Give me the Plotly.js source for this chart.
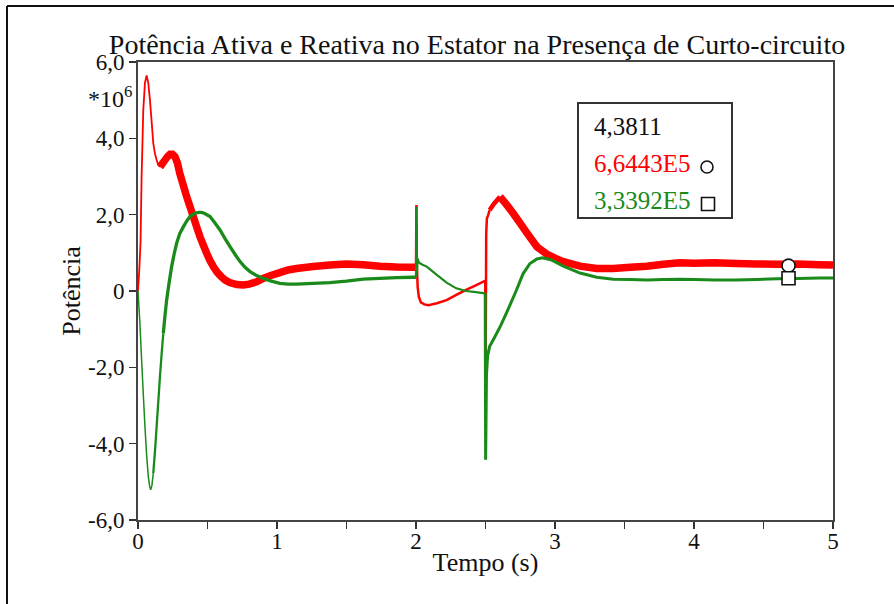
<!DOCTYPE html>
<html>
<head>
<meta charset="utf-8">
<script src="https://cdn.plot.ly/plotly-3.0.1.min.js"></script>
<style>html,body{margin:0;padding:0;background:#fff;}#chart{width:894px;height:604px;}</style>
</head>
<body>
<div id="chart"></div>
<script>
// ---- Data (power in units of 1e6) ----
// Active power P (red), segments by trace thickness
const redT_a = [0, 0.01, 0.018, 0.026, 0.038, 0.05, 0.062, 0.074, 0.086, 0.1, 0.11, 0.122, 0.134, 0.146, 0.158];
const redV_a = [0, 0.6, 1.25, 3.0, 4.74, 5.45, 5.65, 5.45, 5.0, 4.35, 3.87, 3.6, 3.43, 3.3, 3.25];
const redT_b = [0.158, 0.176, 0.194, 0.212, 0.23, 0.248, 0.266, 0.284, 0.30, 0.325, 0.35, 0.375, 0.398, 0.422, 0.446, 0.47, 0.494, 0.518, 0.542, 0.57, 0.60, 0.63, 0.66, 0.71, 0.758, 0.80, 0.854, 0.9, 0.95, 1.02, 1.08, 1.14, 1.26, 1.38, 1.5, 1.62, 1.74, 1.86, 1.98, 2.0];
const redV_b = [3.25, 3.34, 3.43, 3.52, 3.58, 3.58, 3.52, 3.35, 3.09, 2.78, 2.47, 2.2, 1.95, 1.68, 1.42, 1.2, 0.99, 0.8, 0.64, 0.49, 0.37, 0.28, 0.22, 0.17, 0.16, 0.18, 0.24, 0.33, 0.4, 0.48, 0.55, 0.59, 0.64, 0.68, 0.71, 0.69, 0.65, 0.63, 0.62, 0.62];
const redT_c = [2.0, 2.003, 2.006, 2.012, 2.02, 2.035, 2.06, 2.09, 2.15, 2.22, 2.29, 2.36, 2.43, 2.498, 2.501, 2.505, 2.51, 2.52, 2.53];
const redV_c = [0.62, 2.25, 0.7, 0.1, -0.15, -0.3, -0.35, -0.37, -0.32, -0.24, -0.1, 0.03, 0.15, 0.27, -2.24, 1.5, 1.9, 2.0, 2.12];
const redT_d = [2.53, 2.56, 2.604];
const redV_d = [2.12, 2.28, 2.47];
const redT_e = [2.604, 2.65, 2.70, 2.75, 2.80, 2.87, 2.94, 3.0, 3.06, 3.18, 3.3, 3.42, 3.54, 3.66, 3.78, 3.9, 4.0, 4.15, 4.3, 4.45, 4.6, 4.75, 4.9, 5.0];
const redV_e = [2.47, 2.27, 2.03, 1.77, 1.51, 1.16, 0.97, 0.86, 0.77, 0.65, 0.59, 0.59, 0.62, 0.65, 0.7, 0.74, 0.73, 0.74, 0.72, 0.71, 0.7, 0.71, 0.69, 0.68];

// Reactive power Q (green)
const grnT_a = [0, 0.013, 0.026, 0.038, 0.05, 0.062, 0.074, 0.083, 0.091, 0.1, 0.11];
const grnV_a = [0, -0.8, -1.8, -2.7, -3.55, -4.3, -4.86, -5.1, -5.21, -5.1, -4.77];
const grnT_m = [0.11, 0.122, 0.134, 0.146, 0.158, 0.17, 0.182];
const grnV_m = [-4.77, -4.2, -3.55, -2.9, -2.24, -1.65, -1.11];
const grnT_b = [0.182, 0.194, 0.206, 0.224, 0.242, 0.26, 0.278, 0.3, 0.326, 0.35, 0.374, 0.398, 0.422, 0.44, 0.458, 0.48, 0.518, 0.55, 0.59, 0.625, 0.662, 0.7, 0.734, 0.77, 0.806, 0.85, 0.9, 0.96, 1.02, 1.08, 1.14, 1.26, 1.38, 1.5, 1.62, 1.74, 1.86, 1.98, 2.0];
const grnV_b = [-1.11, -0.65, -0.24, 0.22, 0.64, 0.97, 1.25, 1.5, 1.68, 1.83, 1.95, 2.01, 2.05, 2.06, 2.06, 2.03, 1.95, 1.8, 1.6, 1.38, 1.16, 0.95, 0.77, 0.62, 0.51, 0.41, 0.33, 0.26, 0.2, 0.18, 0.18, 0.2, 0.22, 0.26, 0.31, 0.33, 0.35, 0.36, 0.36];
const grnT_c = [2.0, 2.003, 2.007, 2.012, 2.02, 2.04, 2.077, 2.11, 2.15, 2.22, 2.29, 2.36, 2.43, 2.498];
const grnV_c = [0.36, 2.2, 0.5, 0.85, 0.75, 0.7, 0.64, 0.54, 0.42, 0.22, 0.07, 0.0, -0.03, -0.06];
const grnT_d = [2.498, 2.501, 2.507, 2.515, 2.53, 2.56, 2.61, 2.66, 2.72, 2.77, 2.82, 2.87, 2.91, 2.97, 3.06, 3.18, 3.3, 3.42, 3.54, 3.66, 3.78, 3.9, 4.0, 4.15, 4.3, 4.45, 4.6, 4.75, 4.9, 5.0];
const grnV_d = [-0.06, -4.42, -2.2, -1.7, -1.45, -1.25, -0.9, -0.5, 0.0, 0.45, 0.72, 0.84, 0.87, 0.82, 0.65, 0.47, 0.36, 0.31, 0.3, 0.29, 0.3, 0.31, 0.3, 0.29, 0.29, 0.3, 0.32, 0.33, 0.34, 0.34];

// Cursor readout
const cursorT = 4.68;
const readTime = "4,3811";
const readP = 0.66443, readPText = "6,6443E5";
const readQ = 0.33392, readQText = "3,3392E5";

// Axis ticks
const xTickVals = [0, 1, 2, 3, 4, 5];
const xTickText = ["0", "1", "2", "3", "4", "5"];
const yTickVals = [-6, -4, -2, 0, 2, 4, 6];
const yTickText = ["-6,0", "-4,0", "-2,0", "0", "2,0", "4,0", "6,0"];

// ---- Layout geometry ----
const W = 894, H = 604;
const L = 138, R = 833, T = 62, B = 520;
const px = x => (x - L) / (R - L);
const py = y => (B - y) / (B - T);

const RED = '#ff0000', GRN = '#1a8a1a';
const FONT = "'Liberation Serif', 'Times New Roman', serif";

function seg(x, y, color, width) {
  return {x: x, y: y, type: 'scatter', mode: 'lines', hoverinfo: 'skip',
          line: {color: color, width: width, simplify: false}, showlegend: false};
}

const traces = [
  seg(redT_a, redV_a, RED, 1.8),
  seg(redT_b, redV_b, RED, 7.5),
  seg(redT_c, redV_c, RED, 2.5),
  seg(redT_d, redV_d, RED, 4.5),
  seg(redT_e, redV_e, RED, 7.5),
  seg(grnT_a, grnV_a, GRN, 1.5),
  seg(grnT_m, grnV_m, GRN, 2.3),
  seg(grnT_b, grnV_b, GRN, 3.3),
  seg(grnT_c, grnV_c, GRN, 2.2),
  seg(grnT_d, grnV_d, GRN, 3),
  {x: [cursorT], y: [readP], type: 'scatter', mode: 'markers', showlegend: false, hoverinfo: 'skip',
   marker: {symbol: 'circle', size: 13, color: '#fff', line: {color: '#111', width: 1.6}}},
  {x: [cursorT], y: [readQ], type: 'scatter', mode: 'markers', showlegend: false, hoverinfo: 'skip',
   marker: {symbol: 'square', size: 13, color: '#fff', line: {color: '#111', width: 1.6}}}
];

const layout = {
  width: W, height: H,
  margin: {l: L, r: W - R, t: T, b: H - B, pad: 0},
  paper_bgcolor: '#fff', plot_bgcolor: '#fff',
  showlegend: false,
  font: {family: FONT, color: '#111', size: 22},
  title: {text: 'Potência Ativa e Reativa no Estator na Presença de Curto-circuito',
          font: {family: FONT, size: 28, color: '#111'},
          x: 477 / W, xref: 'container', xanchor: 'center',
          y: 1 - 44 / H, yref: 'container', yanchor: 'middle'},
  xaxis: {range: [0, 5], tickvals: xTickVals, ticktext: xTickText,
          ticks: 'outside', ticklen: 7, tickwidth: 1.5, tickcolor: '#333',
          ticklabelstandoff: -8,
          minor: {dtick: 0.5, ticks: 'outside', ticklen: 7, tickwidth: 1.5, tickcolor: '#333', showgrid: false},
          showline: true, linecolor: '#444', linewidth: 2, mirror: true,
          showgrid: false, zeroline: false,
          tickfont: {family: FONT, size: 23, color: '#111'},
          title: {text: 'Tempo (s)', font: {family: FONT, size: 26, color: '#111'}, standoff: 0}},
  yaxis: {range: [-6, 6], tickvals: yTickVals, ticktext: yTickText,
          ticks: 'outside', ticklen: 7, tickwidth: 1.5, tickcolor: '#333',
          showline: true, linecolor: '#444', linewidth: 2, mirror: true,
          showgrid: false, zeroline: false,
          tickfont: {family: FONT, size: 23, color: '#111'},
          title: {text: 'Potência', font: {family: FONT, size: 26, color: '#111'}, standoff: 0}},
  shapes: [
    // outer frame (top and left)
    {type: 'line', xref: 'paper', yref: 'paper', x0: px(7), x1: px(W + 5), y0: py(6), y1: py(6), line: {color: '#111', width: 2}},
    {type: 'line', xref: 'paper', yref: 'paper', x0: px(7), x1: px(7), y0: py(6), y1: py(H + 5), line: {color: '#111', width: 2}},
    // readout box
    {type: 'rect', xref: 'paper', yref: 'paper', x0: px(578), x1: px(732), y0: py(218), y1: py(103),
     line: {color: '#333', width: 2}, fillcolor: '#fff', layer: 'above'},
    {type: 'circle', xref: 'paper', yref: 'paper', x0: px(701), x1: px(713), y0: py(173), y1: py(161),
     line: {color: '#111', width: 1.6}, fillcolor: 'rgba(0,0,0,0)', layer: 'above'},
    {type: 'rect', xref: 'paper', yref: 'paper', x0: px(701.5), x1: px(714.5), y0: py(210.5), y1: py(197.5),
     line: {color: '#111', width: 1.6}, fillcolor: 'rgba(0,0,0,0)', layer: 'above'}
  ],
  annotations: [
    {xref: 'paper', yref: 'paper', x: px(134), y: py(97), xanchor: 'right', yanchor: 'middle',
     text: '*10<sup>6</sup>', showarrow: false, font: {family: FONT, size: 24, color: '#111'}},
    {xref: 'paper', yref: 'paper', x: px(592), y: py(126), xanchor: 'left', yanchor: 'middle',
     text: readTime, showarrow: false, font: {family: FONT, size: 25, color: '#111'}},
    {xref: 'paper', yref: 'paper', x: px(592), y: py(163), xanchor: 'left', yanchor: 'middle',
     text: readPText, showarrow: false, font: {family: FONT, size: 25, color: RED}},
    {xref: 'paper', yref: 'paper', x: px(592), y: py(200), xanchor: 'left', yanchor: 'middle',
     text: readQText, showarrow: false, font: {family: FONT, size: 25, color: GRN}}
  ]
};

Plotly.newPlot('chart', traces, layout, {staticPlot: true, displayModeBar: false});
</script>
</body>
</html>
